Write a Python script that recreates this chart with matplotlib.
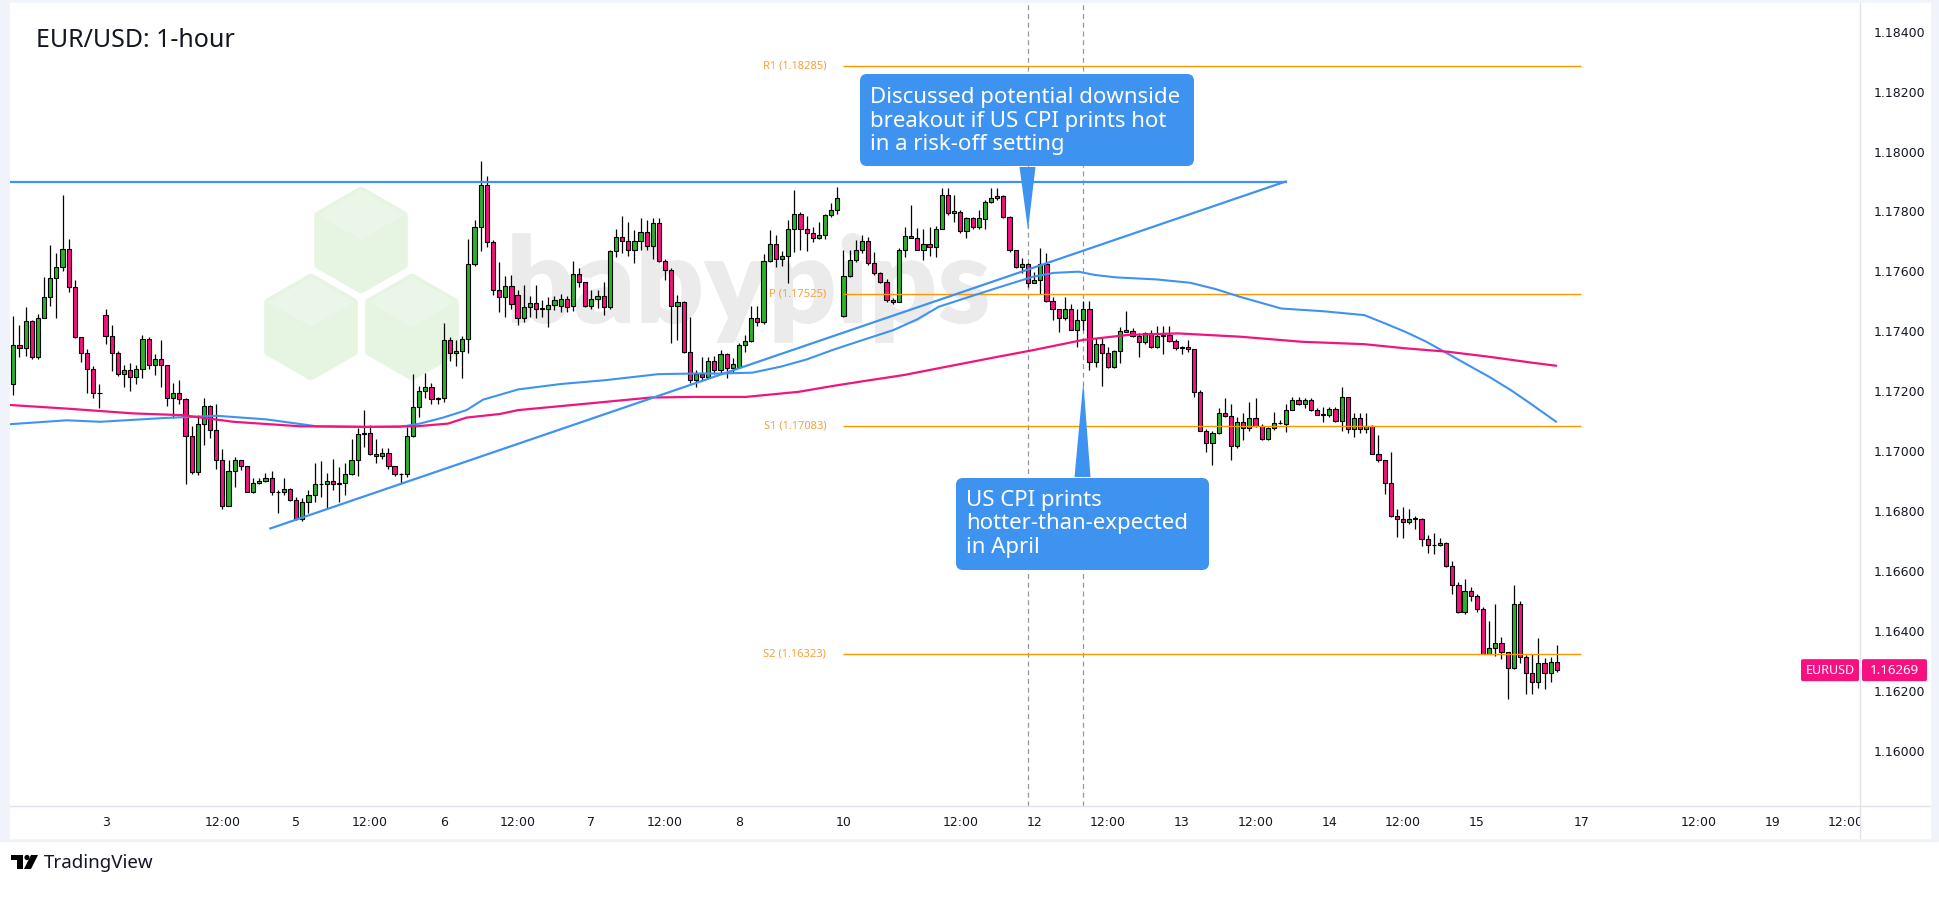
#!/usr/bin/env python3
"""EUR/USD 1-hour candlestick chart with weekly pivots, MAs and trend lines."""

import numpy as np
import matplotlib
matplotlib.use("Agg")
import matplotlib.pyplot as plt
from matplotlib import transforms as mtransforms
from matplotlib.patches import Polygon, FancyBboxPatch, Rectangle, Circle
from matplotlib.lines import Line2D

W, H = 1940, 898

# ---------------- candle data (hourly bars) ----------------
opens = [
    1.17223, 1.17354, 1.17343, 1.17433, 1.17313, 1.17446, 1.17513, 1.17577, 1.17613, 1.17674, 1.17549, 1.17382, 1.17329, 1.17273, 1.17193,
    1.17453, 1.17384, 1.17329, 1.17259, 1.17270, 1.17248, 1.17273, 1.17373, 1.17289, 1.17306, 1.17287, 1.17176, 1.17193, 1.17173, 1.17050,
    1.16929, 1.17089, 1.17150, 1.17070, 1.16972, 1.16817, 1.16933, 1.16970, 1.16950, 1.16864, 1.16895, 1.16900, 1.16912, 1.16862, 1.16864,
    1.16872, 1.16836, 1.16775, 1.16829, 1.16855, 1.16889, 1.16889, 1.16900, 1.16892, 1.16895, 1.16923, 1.16970, 1.17056, 1.17062, 1.16992,
    1.16984, 1.16995, 1.16950, 1.16923, 1.16925, 1.17051, 1.17146, 1.17200, 1.17213, 1.17174, 1.17176, 1.17371, 1.17329, 1.17334, 1.17373,
    1.17623, 1.17749, 1.17890, 1.17697, 1.17538, 1.17515, 1.17551, 1.17520, 1.17443, 1.17480, 1.17493, 1.17476, 1.17476, 1.17487, 1.17485,
    1.17509, 1.17485, 1.17590, 1.17563, 1.17485, 1.17507, 1.17517, 1.17480, 1.17668, 1.17716, 1.17702, 1.17671, 1.17702, 1.17730, 1.17686,
    1.17760, 1.17635, 1.17604, 1.17485, 1.17499, 1.17332, 1.17237, 1.17259, 1.17248, 1.17302, 1.17270, 1.17324, 1.17276, 1.17282, 1.17354,
    1.17368, 1.17443, 1.17430, 1.17635, 1.17690, 1.17640, 1.17653, 1.17740, 1.17790, 1.17743, 1.17727, 1.17710, 1.17723, 1.17787, 1.17805,
    1.17451, 1.17585, 1.17638, 1.17673, 1.17701, 1.17627, 1.17593, 1.17565, 1.17506, 1.17499, 1.17673, 1.17718, 1.17713, 1.17673, 1.17690,
    1.17682, 1.17743, 1.17855, 1.17794, 1.17799, 1.17735, 1.17779, 1.17749, 1.17774, 1.17833, 1.17844, 1.17851, 1.17782, 1.17671, 1.17613,
    1.17623, 1.17562, 1.17571, 1.17623, 1.17502, 1.17476, 1.17443, 1.17476, 1.17406, 1.17437, 1.17476, 1.17298, 1.17359, 1.17326, 1.17282,
    1.17334, 1.17398, 1.17402, 1.17384, 1.17365, 1.17393, 1.17348, 1.17384, 1.17387, 1.17368, 1.17345, 1.17346, 1.17340, 1.17198, 1.17068,
    1.17026, 1.17059, 1.17126, 1.17118, 1.17017, 1.17098, 1.17076, 1.17109, 1.17083, 1.17039, 1.17076, 1.17095, 1.17092, 1.17139, 1.17172,
    1.17157, 1.17170, 1.17137, 1.17122, 1.17122, 1.17142, 1.17101, 1.17181, 1.17073, 1.17109, 1.17073, 1.17083, 1.16992, 1.16970, 1.16895,
    1.16784, 1.16773, 1.16762, 1.16776, 1.16773, 1.16706, 1.16687, 1.16686, 1.16692, 1.16617, 1.16553, 1.16464, 1.16533, 1.16518, 1.16472,
    1.16322, 1.16344, 1.16361, 1.16329, 1.16275, 1.16489, 1.16312, 1.16258, 1.16231, 1.16292, 1.16258, 1.16295,
]
highs = [
    1.17451, 1.17421, 1.17482, 1.17437, 1.17457, 1.17582, 1.17688, 1.17660, 1.17855, 1.17707, 1.17571, 1.17382, 1.17340, 1.17284, 1.17223,
    1.17476, 1.17421, 1.17334, 1.17287, 1.17293, 1.17287, 1.17387, 1.17382, 1.17324, 1.17371, 1.17289, 1.17226, 1.17237, 1.17176, 1.17085,
    1.17122, 1.17176, 1.17154, 1.17156, 1.17006, 1.16972, 1.16981, 1.16972, 1.16950, 1.16909, 1.16909, 1.16926, 1.16934, 1.16870, 1.16911,
    1.16878, 1.16847, 1.16844, 1.16870, 1.16961, 1.16967, 1.16926, 1.16975, 1.16948, 1.16959, 1.17042, 1.17076, 1.17137, 1.17087, 1.17040,
    1.17011, 1.17009, 1.16950, 1.16928, 1.17081, 1.17257, 1.17218, 1.17262, 1.17228, 1.17182, 1.17429, 1.17382, 1.17371, 1.17384, 1.17707,
    1.17773, 1.17968, 1.17918, 1.17705, 1.17630, 1.17584, 1.17588, 1.17538, 1.17556, 1.17518, 1.17554, 1.17504, 1.17515, 1.17518, 1.17523,
    1.17519, 1.17634, 1.17612, 1.17563, 1.17538, 1.17538, 1.17565, 1.17673, 1.17741, 1.17785, 1.17766, 1.17738, 1.17777, 1.17771, 1.17777,
    1.17779, 1.17640, 1.17610, 1.17521, 1.17501, 1.17449, 1.17270, 1.17315, 1.17315, 1.17317, 1.17337, 1.17328, 1.17310, 1.17362, 1.17387,
    1.17484, 1.17484, 1.17658, 1.17738, 1.17721, 1.17669, 1.17771, 1.17871, 1.17799, 1.17786, 1.17747, 1.17766, 1.17790, 1.17827, 1.17883,
    1.17671, 1.17671, 1.17704, 1.17721, 1.17716, 1.17666, 1.17599, 1.17573, 1.17510, 1.17679, 1.17747, 1.17821, 1.17746, 1.17741, 1.17747,
    1.17751, 1.17879, 1.17879, 1.17855, 1.17805, 1.17782, 1.17782, 1.17805, 1.17838, 1.17877, 1.17877, 1.17855, 1.17785, 1.17671, 1.17645,
    1.17627, 1.17599, 1.17677, 1.17660, 1.17515, 1.17476, 1.17515, 1.17491, 1.17476, 1.17501, 1.17501, 1.17376, 1.17376, 1.17348, 1.17337,
    1.17415, 1.17467, 1.17410, 1.17393, 1.17398, 1.17404, 1.17418, 1.17418, 1.17418, 1.17373, 1.17352, 1.17371, 1.17340, 1.17204, 1.17073,
    1.17067, 1.17145, 1.17176, 1.17159, 1.17115, 1.17126, 1.17165, 1.17176, 1.17092, 1.17081, 1.17131, 1.17103, 1.17159, 1.17181, 1.17181,
    1.17176, 1.17176, 1.17143, 1.17148, 1.17148, 1.17148, 1.17213, 1.17181, 1.17126, 1.17126, 1.17126, 1.17087, 1.17053, 1.16972, 1.16998,
    1.16807, 1.16812, 1.16808, 1.16785, 1.16776, 1.16720, 1.16726, 1.16709, 1.16696, 1.16633, 1.16562, 1.16573, 1.16545, 1.16522, 1.16479,
    1.16433, 1.16490, 1.16379, 1.16329, 1.16553, 1.16500, 1.16320, 1.16322, 1.16375, 1.16311, 1.16312, 1.16353,
]
lows = [
    1.17189, 1.17315, 1.17318, 1.17309, 1.17309, 1.17443, 1.17485, 1.17443, 1.17602, 1.17532, 1.17376, 1.17296, 1.17195, 1.17178, 1.17143,
    1.17356, 1.17268, 1.17251, 1.17215, 1.17201, 1.17224, 1.17245, 1.17274, 1.17254, 1.17215, 1.17150, 1.17111, 1.17159, 1.16889, 1.16925,
    1.16920, 1.17022, 1.17045, 1.16942, 1.16806, 1.16817, 1.16881, 1.16937, 1.16864, 1.16859, 1.16889, 1.16898, 1.16853, 1.16795, 1.16855,
    1.16833, 1.16770, 1.16766, 1.16795, 1.16829, 1.16847, 1.16808, 1.16870, 1.16831, 1.16853, 1.16920, 1.16917, 1.17014, 1.16987, 1.16961,
    1.16975, 1.16942, 1.16917, 1.16895, 1.16914, 1.17048, 1.17115, 1.17178, 1.17159, 1.17159, 1.17165, 1.17302, 1.17284, 1.17245, 1.17328,
    1.17619, 1.17668, 1.17682, 1.17521, 1.17465, 1.17449, 1.17473, 1.17421, 1.17432, 1.17449, 1.17446, 1.17449, 1.17415, 1.17471, 1.17465,
    1.17465, 1.17469, 1.17549, 1.17482, 1.17476, 1.17479, 1.17454, 1.17476, 1.17649, 1.17660, 1.17651, 1.17627, 1.17671, 1.17671, 1.17640,
    1.17630, 1.17571, 1.17360, 1.17371, 1.17329, 1.17226, 1.17215, 1.17234, 1.17245, 1.17259, 1.17259, 1.17243, 1.17262, 1.17276, 1.17332,
    1.17365, 1.17417, 1.17426, 1.17632, 1.17615, 1.17618, 1.17560, 1.17666, 1.17671, 1.17669, 1.17699, 1.17707, 1.17707, 1.17782, 1.17793,
    1.17449, 1.17582, 1.17632, 1.17660, 1.17621, 1.17588, 1.17560, 1.17499, 1.17491, 1.17499, 1.17649, 1.17710, 1.17671, 1.17638, 1.17651,
    1.17647, 1.17741, 1.17788, 1.17766, 1.17727, 1.17710, 1.17743, 1.17743, 1.17741, 1.17827, 1.17838, 1.17777, 1.17666, 1.17610, 1.17595,
    1.17549, 1.17560, 1.17526, 1.17499, 1.17437, 1.17398, 1.17437, 1.17404, 1.17348, 1.17404, 1.17270, 1.17282, 1.17218, 1.17276, 1.17276,
    1.17293, 1.17398, 1.17382, 1.17315, 1.17359, 1.17345, 1.17343, 1.17324, 1.17365, 1.17337, 1.17324, 1.17332, 1.17181, 1.17068, 1.16998,
    1.16953, 1.17057, 1.17115, 1.16972, 1.17012, 1.17037, 1.17067, 1.17079, 1.17037, 1.17037, 1.17072, 1.17090, 1.17065, 1.17137, 1.17154,
    1.17143, 1.17135, 1.17120, 1.17098, 1.17115, 1.17098, 1.17068, 1.17061, 1.17048, 1.17059, 1.17061, 1.16990, 1.16964, 1.16856, 1.16781,
    1.16714, 1.16709, 1.16758, 1.16739, 1.16684, 1.16659, 1.16656, 1.16684, 1.16614, 1.16522, 1.16461, 1.16455, 1.16501, 1.16464, 1.16322,
    1.16322, 1.16317, 1.16305, 1.16172, 1.16272, 1.16292, 1.16188, 1.16188, 1.16210, 1.16205, 1.16231, 1.16264,
]
closes = [
    1.17354, 1.17343, 1.17433, 1.17313, 1.17446, 1.17513, 1.17577, 1.17613, 1.17674, 1.17549, 1.17382, 1.17329, 1.17273, 1.17193, 1.17193,
    1.17384, 1.17329, 1.17259, 1.17270, 1.17248, 1.17273, 1.17373, 1.17289, 1.17306, 1.17287, 1.17176, 1.17193, 1.17173, 1.17050, 1.16929,
    1.17089, 1.17150, 1.17070, 1.16972, 1.16817, 1.16933, 1.16970, 1.16950, 1.16864, 1.16895, 1.16900, 1.16912, 1.16862, 1.16864, 1.16872,
    1.16836, 1.16775, 1.16829, 1.16855, 1.16889, 1.16889, 1.16900, 1.16892, 1.16895, 1.16923, 1.16970, 1.17056, 1.17062, 1.16992, 1.16984,
    1.16995, 1.16950, 1.16923, 1.16925, 1.17051, 1.17146, 1.17200, 1.17213, 1.17174, 1.17176, 1.17371, 1.17329, 1.17334, 1.17373, 1.17623,
    1.17749, 1.17890, 1.17697, 1.17538, 1.17515, 1.17551, 1.17491, 1.17443, 1.17480, 1.17493, 1.17476, 1.17478, 1.17487, 1.17506, 1.17509,
    1.17482, 1.17590, 1.17563, 1.17485, 1.17507, 1.17517, 1.17480, 1.17668, 1.17716, 1.17702, 1.17671, 1.17702, 1.17730, 1.17686, 1.17760,
    1.17635, 1.17604, 1.17485, 1.17499, 1.17332, 1.17237, 1.17259, 1.17248, 1.17302, 1.17270, 1.17324, 1.17276, 1.17290, 1.17354, 1.17368,
    1.17443, 1.17430, 1.17635, 1.17690, 1.17640, 1.17653, 1.17740, 1.17790, 1.17743, 1.17727, 1.17710, 1.17723, 1.17787, 1.17805, 1.17844,
    1.17585, 1.17638, 1.17673, 1.17701, 1.17627, 1.17593, 1.17565, 1.17506, 1.17499, 1.17673, 1.17718, 1.17713, 1.17673, 1.17690, 1.17682,
    1.17743, 1.17855, 1.17794, 1.17800, 1.17735, 1.17779, 1.17749, 1.17777, 1.17833, 1.17844, 1.17851, 1.17782, 1.17671, 1.17613, 1.17623,
    1.17562, 1.17571, 1.17623, 1.17502, 1.17474, 1.17443, 1.17476, 1.17406, 1.17437, 1.17476, 1.17298, 1.17359, 1.17326, 1.17282, 1.17334,
    1.17402, 1.17404, 1.17384, 1.17365, 1.17393, 1.17348, 1.17384, 1.17387, 1.17368, 1.17343, 1.17346, 1.17340, 1.17198, 1.17068, 1.17026,
    1.17059, 1.17126, 1.17118, 1.17017, 1.17098, 1.17076, 1.17109, 1.17083, 1.17039, 1.17076, 1.17095, 1.17094, 1.17139, 1.17172, 1.17157,
    1.17170, 1.17137, 1.17122, 1.17122, 1.17142, 1.17101, 1.17181, 1.17073, 1.17109, 1.17073, 1.17083, 1.16992, 1.16970, 1.16895, 1.16784,
    1.16773, 1.16762, 1.16775, 1.16773, 1.16706, 1.16687, 1.16686, 1.16692, 1.16617, 1.16553, 1.16464, 1.16533, 1.16518, 1.16472, 1.16322,
    1.16344, 1.16361, 1.16329, 1.16275, 1.16489, 1.16312, 1.16258, 1.16231, 1.16292, 1.16258, 1.16295, 1.16269,
]

# time axis labels (bar index -> label)
tick_pos = [15, 34, 46, 58, 70, 82, 94, 106, 118, 135, 154, 166, 178, 190, 202, 214, 226, 238, 255, 274, 286, 298]
tick_labels = ['3', '12:00', '5', '12:00', '6', '12:00', '7', '12:00', '8', '10', '12:00', '12',
               '12:00', '13', '12:00', '14', '12:00', '15', '17', '12:00', '19', '12:00']
price_ticks = [1.160, 1.162, 1.164, 1.166, 1.168, 1.170, 1.172, 1.174, 1.176, 1.178, 1.180, 1.182, 1.184]

# moving averages (bar index, price)
ma_fast_idx = [-0.5, 8.7, 14.1, 24.9, 33.1, 41.2, 49.3, 57.5, 62.9, 66.1, 69.9, 73.7, 76.4, 79.1, 82.1,
               89.0, 96.3, 104.9, 110.6, 115.0, 120.2, 124.8, 129.0, 133.4, 138.0, 143.1, 147.0, 150.5,
               155.0, 160.0, 165.8, 169.2, 173.2, 175.9, 179.3, 186.0, 191.4, 195.5, 199.5, 206.2, 213.0,
               219.7, 223.1, 226.5, 229.8, 233.2, 236.5, 240.0, 243.5, 246.7, 250.9]
ma_fast_val = [1.17090, 1.17103, 1.17098, 1.17111, 1.17118, 1.17106, 1.17083, 1.17081, 1.17081, 1.17092,
               1.17112, 1.17137, 1.17172, 1.17188, 1.17206, 1.17224, 1.17237, 1.17257, 1.17259, 1.17259,
               1.17262, 1.17282, 1.17306, 1.17339, 1.17370, 1.17404, 1.17440, 1.17482, 1.17512, 1.17545,
               1.17582, 1.17595, 1.17599, 1.17588, 1.17580, 1.17573, 1.17562, 1.17541, 1.17515, 1.17476,
               1.17467, 1.17454, 1.17426, 1.17397, 1.17365, 1.17326, 1.17288, 1.17248, 1.17204, 1.17159,
               1.17098]
ma_slow_idx = [-0.5, 8.7, 19.5, 27.6, 35.8, 46.6, 57.5, 65.6, 70.7, 73.7, 79.1, 82.1, 93.5, 103.7, 110.6,
               119.1, 127.7, 133.4, 139.0, 144.8, 152.3, 160.1, 165.8, 173.9, 181.3, 189.4, 199.5, 209.6,
               219.7, 226.5, 233.2, 240.0, 246.7, 250.9]
ma_slow_val = [1.17154, 1.17142, 1.17126, 1.17120, 1.17098, 1.17083, 1.17081, 1.17083, 1.17092, 1.17112,
               1.17124, 1.17137, 1.17159, 1.17179, 1.17181, 1.17181, 1.17198, 1.17218, 1.17236, 1.17254,
               1.17284, 1.17315, 1.17337, 1.17371, 1.17388, 1.17393, 1.17382, 1.17365, 1.17357, 1.17343,
               1.17332, 1.17315, 1.17296, 1.17285]

# drawn lines
resistance_idx = [-0.5, 206.9]
resistance_val = [1.17900, 1.17900]
trend_idx = [41.8, 206.9]
trend_val = [1.16742, 1.17900]

pivot_names = ['R1', 'P', 'S1', 'S2']
pivot_levels = [1.18285, 1.17525, 1.17083, 1.16323]
pivot_start, pivot_end = 135, 255

event_idx = [165, 174]

# colours
GREEN = '#2BB12B'
PINK = '#F7107F'
BLUE = '#3F93F0'
MA_PINK = '#F2147E'
ORANGE = '#FF9800'
ORANGE_TXT = '#F5A03C'
AXIS = '#E0E3EB'
TXT = '#131722'

fig = plt.figure(figsize=(W / 100, H / 100), dpi=100, facecolor='white')
ident = mtransforms.IdentityTransform()


def fx(x):
    return x / W


def fy(y):
    return 1 - y / H


# frame + white panel
fig.patches.append(Rectangle((0, fy(841)), 1, 1 - fy(841), transform=fig.transFigure,
                             color='#F0F3FA', zorder=-10))
fig.patches.append(Rectangle((fx(10), fy(838)), fx(1930) - fx(10), fy(3) - fy(838),
                             transform=fig.transFigure, color='white', zorder=-9))

ax = fig.add_axes([fx(10), fy(806), fx(1860) - fx(10), fy(3) - fy(806)])
ax.set_facecolor('none')
ax.set_xlim(-0.54, 300.3)
ax.set_ylim(1.158156, 1.184958)

# ---------------- watermark ----------------
R = 50
for cx, cy in [(361, 240), (311, 327), (412, 327)]:
    ang = np.radians(90 + 60 * np.arange(6))
    verts = [(cx + R * np.cos(a), H - (cy - R * np.sin(a))) for a in ang]
    hexp = Polygon(verts, closed=True, transform=ident, fc='#E6F4E2', ec='#E6F4E2',
                   lw=5, joinstyle='round', zorder=0.5)
    ax.add_artist(hexp)
    top = [(cx, H - (cy - R)), (cx + R * np.cos(np.radians(30)), H - (cy - R / 2)),
           (cx, H - cy), (cx - R * np.cos(np.radians(30)), H - (cy - R / 2))]
    ax.add_artist(Polygon(top, closed=True, transform=ident, fc='#EAF6E7', ec='none', zorder=0.55))
ax.text(fx(506), fy(323), 'babypips', transform=fig.transFigure, fontsize=86,
        family='Lato', weight='heavy', color='#EBEBEB', ha='left', va='baseline', zorder=0.6)

# ---------------- candles ----------------
o = np.array(opens)
hi = np.array(highs)
lo = np.array(lows)
c = np.array(closes)
x = np.arange(len(o))
body_lo = np.minimum(o, c)
body_hi = np.maximum(o, c)
cols = np.where(c >= o, GREEN, PINK)

ax.vlines(x, np.minimum(lo, body_lo), np.maximum(hi, body_hi), color='black', lw=0.9, zorder=2)
ax.bar(x, np.maximum(body_hi - body_lo, 0.000012), bottom=body_lo, width=0.68, color=cols,
       edgecolor='black', linewidth=0.8, zorder=3)

# moving averages
ax.plot(ma_fast_idx, ma_fast_val, color=BLUE, lw=1.5, zorder=4, solid_capstyle='round',
        solid_joinstyle='round')
ax.plot(ma_slow_idx, ma_slow_val, color=MA_PINK, lw=1.6, zorder=4, solid_capstyle='round',
        solid_joinstyle='round')

# trend lines
ax.plot(resistance_idx, resistance_val, color=BLUE, lw=1.6, zorder=5)
ax.plot(trend_idx, trend_val, color=BLUE, lw=1.6, zorder=5)

# pivots
for name, lvl in zip(pivot_names, pivot_levels):
    ax.hlines(lvl, pivot_start, pivot_end, color=ORANGE, lw=1.0, zorder=3.5)
    ax.annotate(f'{name} ({lvl:.5f})', xy=(pivot_start, lvl), xytext=(-17, 0),
                textcoords='offset pixels', ha='right', va='center', fontsize=8,
                family='Noto Sans', color=ORANGE_TXT, zorder=3.5)

# event lines
for ev in event_idx:
    ax.axvline(ev, color='#9598A1', lw=0.9, ls=(0, (4, 3)), zorder=1.5)

# ---------------- axes styling ----------------
ax.yaxis.tick_right()
ax.set_yticks(price_ticks)
ax.set_yticklabels([f'{v:.5f}' for v in price_ticks])
ax.tick_params(axis='y', length=0, pad=10, labelsize=9, labelcolor=TXT)
ax.set_xticks(tick_pos)
ax.set_xticklabels(tick_labels)
ax.tick_params(axis='x', length=0, pad=7, labelsize=9, labelcolor=TXT)
clip = mtransforms.Bbox([[0, 0], [1860, H]])
for lab in ax.get_xticklabels():
    lab.set_clip_box(clip)
    lab.set_clip_on(True)
for sp in ['left', 'top']:
    ax.spines[sp].set_visible(False)
for sp in ['right', 'bottom']:
    ax.spines[sp].set_color(AXIS)
    ax.spines[sp].set_linewidth(1)
fig.add_artist(Line2D([fx(1860), fx(1930)], [fy(806), fy(806)], transform=fig.transFigure,
                      color=AXIS, lw=1))
fig.add_artist(Line2D([fx(1860), fx(1860)], [fy(806), fy(838)], transform=fig.transFigure,
                      color=AXIS, lw=1))


# ---------------- callouts ----------------
def callout(x0, y0, x1, y1, base_x, anchor, lines, tx, baselines, pointer_up):
    box = FancyBboxPatch((x0, H - y1), x1 - x0, y1 - y0, boxstyle='round,pad=0,rounding_size=7',
                         transform=ident, fc=BLUE, ec='none', zorder=10)
    fig.add_artist(box)
    ax_, ay_ = ax.transData.transform(anchor)
    by = H - y0 + 1 if pointer_up else H - y1 - 1
    tri = Polygon([(base_x - 8, by), (base_x + 8, by), (ax_, ay_)], closed=True,
                  transform=ident, fc=BLUE, ec='none', zorder=10)
    fig.add_artist(tri)
    for s, b in zip(lines, baselines):
        fig.text(fx(tx), fy(b), s, fontsize=16, family='Noto Sans', color='white',
                 ha='left', va='baseline', zorder=11)


callout(860, 74, 1194, 166, 1027.5, (event_idx[0], 1.17738),
        ['Discussed potential downside', 'breakout if US CPI prints hot', 'in a risk-off setting'],
        870, [103, 126.5, 150], pointer_up=False)
callout(956, 478, 1209, 570, 1082.5, (event_idx[1], 1.17232),
        ['US CPI prints', 'hotter-than-expected', 'in April'],
        966, [506, 529.5, 553], pointer_up=True)

# title
fig.text(fx(36), fy(47), 'EUR/USD: 1-hour', fontsize=18, family='Noto Sans', color=TXT,
         ha='left', va='baseline')

# last price tags
py = ax.transData.transform((0, closes[-1]))[1]
fig.add_artist(FancyBboxPatch((1801, py - 11), 58, 22, boxstyle='round,pad=0,rounding_size=2',
                              transform=ident, fc=PINK, ec='none', zorder=12))
fig.add_artist(FancyBboxPatch((1862, py - 11), 65, 22, boxstyle='round,pad=0,rounding_size=2',
                              transform=ident, fc=PINK, ec='none', zorder=12))
fig.text(fx(1830), py / H, 'EURUSD', fontsize=9, family='Noto Sans', weight='bold',
         color='white', ha='center', va='center', zorder=13)
fig.text(fx(1894.5), py / H, f'{closes[-1]:.5f}', fontsize=9.5, family='Noto Sans',
         weight='bold', color='white', ha='center', va='center', zorder=13)

# TradingView logo
logo = [(11, 855), (23, 855), (23, 869), (17, 869), (17, 860), (11, 860)]
fig.add_artist(Polygon([(a, H - b) for a, b in logo], transform=ident, fc='black', ec='none'))
fig.add_artist(Circle((27, H - 857.5), 2.6, transform=ident, fc='black', ec='none'))
vshape = [(31, 855), (38, 855), (31, 869), (24, 869)]
fig.add_artist(Polygon([(a, H - b) for a, b in vshape], transform=ident, fc='black', ec='none'))
fig.text(fx(44), fy(868), 'TradingView', fontsize=13.5, family='Noto Sans', weight='bold',
         color=TXT, ha='left', va='baseline')

fig.savefig('out.png', dpi=100)
